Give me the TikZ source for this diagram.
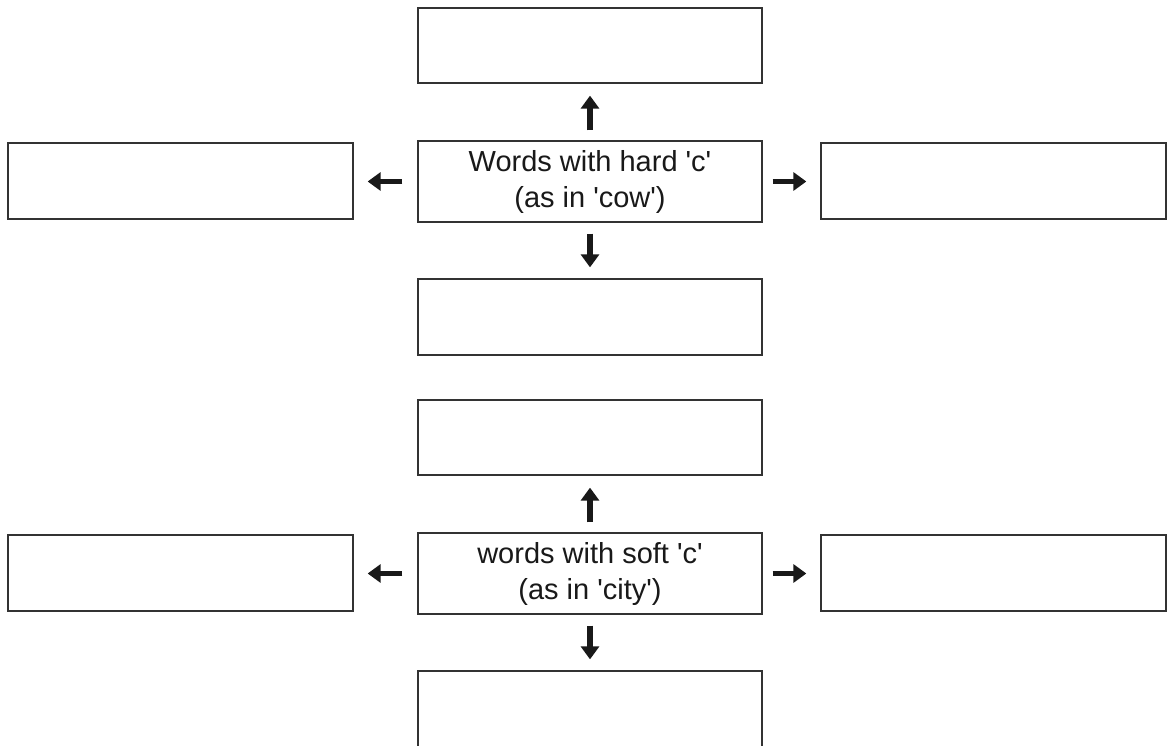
\documentclass[tikz,border=0pt]{standalone}
\usepackage{fontspec}
\newfontfamily\hv{Liberation Sans}
\usetikzlibrary{arrows.meta}
\newcommand{\q}{\textquotesingle}
\tikzset{
  box/.style={draw=black!80, line width=1.3pt, fill=white, inner sep=0pt,
    font=\hv\fontsize{29}{36}\selectfont, text=black!90, align=center},
  arr/.style={line width=5.5pt, draw=black!90, -{Triangle[width=18pt,length=13pt]}}
}
\begin{document}
\begin{tikzpicture}[x=1pt,y=-1pt]
\useasboundingbox (0,0) rectangle (1168,746);
\foreach \g/\oy/\ta/\tb in {A/0/{Words with hard \q c\q}/{(as in \q cow\q)}, B/392/{words with soft \q c\q}/{(as in \q city\q)}}{
  \node[box, minimum width=344pt, minimum height=81pt] (c\g) at (590,181.5+\oy) {\ta\\\tb};
  \node[box, minimum width=344pt, minimum height=75pt] (t\g) at (590,45.5+\oy) {};
  \node[box, minimum width=344pt, minimum height=76pt] (b\g) at (590,317+\oy) {};
  \node[box, minimum width=345pt, minimum height=76pt] (l\g) at (180.5,181+\oy) {};
  \node[box, minimum width=345pt, minimum height=76pt] (r\g) at (993.5,181+\oy) {};
  \draw[arr, shorten <=10pt, shorten >=12pt] (c\g.north) -- (t\g.south);
  \draw[arr, shorten <=11pt, shorten >=11pt] (c\g.south) -- (b\g.north);
  \draw[arr, shorten <=15pt, shorten >=14pt] (c\g.west) -- (l\g.east |- c\g.west);
  \draw[arr, shorten <=10pt, shorten >=14pt] (c\g.east) -- (r\g.west |- c\g.east);
}
\end{tikzpicture}
\end{document}
